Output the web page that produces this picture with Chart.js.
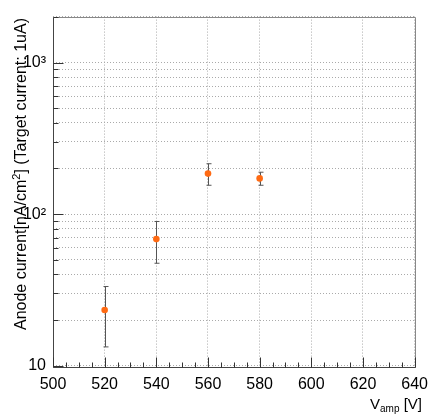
<!DOCTYPE html>
<html>
<head>
<meta charset="utf-8">
<script src="https://cdn.jsdelivr.net/npm/chart.js@4"></script>
<style>
  html,body{margin:0;padding:0;background:#fff;}
  #wrap{width:436px;height:415px;}
</style>
</head>
<body>
<div id="wrap"><canvas id="myChart" width="436" height="415"></canvas></div>
<script>
// data
const voltages = [520, 540, 560, 580]
const currents = [23.3, 68.4, 185, 172]
const errors = [10, 21, 30, 17]

const yGridValues = [10,20,30,40,50,60,70,80,90,100,200,300,400,500,600,700,800,900,1000,2000]
const yLabelled = {10:'10', 100:'10²', 1000:'10³'}
const xTicks = [500,520,540,560,580,600,620,640]

const FONT = '"Liberation Sans", Arial, sans-serif'

// error bars, inward ticks, frame and titles (ROOT look)
const rootStyle = {
    id:'rootStyle',
    afterDatasetsDraw(chart){
        const ctx = chart.ctx
        const xs = chart.scales.x, ys = chart.scales.y
        const a = chart.chartArea
        ctx.save()
        // error bars
        ctx.strokeStyle = '#555'
        ctx.lineWidth = 1
        voltages.forEach((v,i)=>{
            let px = Math.round(xs.getPixelForValue(v)) + 0.5
            let top = ys.getPixelForValue(currents[i] + errors[i])
            let bot = ys.getPixelForValue(currents[i] - errors[i])
            ctx.beginPath()
            ctx.moveTo(px, top); ctx.lineTo(px, bot)
            ctx.moveTo(px-2, top); ctx.lineTo(px+3, top)
            ctx.moveTo(px-2, bot); ctx.lineTo(px+3, bot)
            ctx.stroke()
        })
        // frame
        let L = Math.round(a.left)+0.5, T = Math.round(a.top)+0.5
        let R = Math.round(a.right)+0.5, B = Math.round(a.bottom)+0.5
        ctx.strokeStyle = '#888'
        ctx.beginPath()
        ctx.moveTo(L, T); ctx.lineTo(R, T); ctx.lineTo(R, B)
        ctx.stroke()
        ctx.strokeStyle = '#444'
        ctx.beginPath()
        ctx.moveTo(L, T); ctx.lineTo(L, B); ctx.lineTo(R, B)
        ctx.stroke()
        // x ticks inward
        ctx.strokeStyle = '#333'
        ctx.beginPath()
        for(let v=500; v<=640; v+=5){
            let px = Math.round(xs.getPixelForValue(v))+0.5
            let len = (v%20===0) ? 10 : 5
            ctx.moveTo(px, B); ctx.lineTo(px, B-len)
        }
        // y ticks inward
        yGridValues.forEach(v=>{
            let py = Math.round(ys.getPixelForValue(v))+0.5
            if(py < a.top || py > a.bottom) return
            let len = yLabelled[v] ? 10 : 5
            ctx.moveTo(L, py); ctx.lineTo(L+len, py)
        })
        ctx.stroke()
        // markers on top of bars
        ctx.fillStyle = '#ff6a13'
        voltages.forEach((v,i)=>{
            ctx.beginPath()
            ctx.arc(xs.getPixelForValue(v), ys.getPixelForValue(currents[i]), 3.3, 0, Math.PI*2)
            ctx.fill()
        })
        // x title with subscript
        ctx.fillStyle = '#000'
        ctx.textBaseline = 'alphabetic'
        ctx.textAlign = 'left'
        let parts = [['V',15,0],['amp',10,3],[' [V]',15,0]]
        let total = 0
        parts.forEach(p=>{ ctx.font = p[1]+'px '+FONT; total += ctx.measureText(p[0]).width })
        let x = 422 - total
        parts.forEach(p=>{
            ctx.font = p[1]+'px '+FONT
            ctx.fillText(p[0], x, 409 + p[2])
            x += ctx.measureText(p[0]).width
        })
        // y title rotated, aligned to top
        let yparts = [['Anode current[nA/cm',16,0],['2',11,-6],['] (Target current: 1uA)',16,0]]
        let ytotal = 0
        yparts.forEach(p=>{ ctx.font = p[1]+'px '+FONT; ytotal += ctx.measureText(p[0]).width })
        ctx.save()
        ctx.translate(25.5, 18 + ytotal)
        ctx.rotate(-Math.PI/2)
        let yx = 0
        yparts.forEach(p=>{
            ctx.font = p[1]+'px '+FONT
            ctx.fillText(p[0], yx, p[2])
            yx += ctx.measureText(p[0]).width
        })
        ctx.restore()
        ctx.restore()
    }
}

const config = {
    type:'scatter',
    data:{
        datasets:[{
            label:'Anode current',
            data: voltages.map((v,i)=>({x:v, y:currents[i]})),
            pointRadius:0,
            pointHoverRadius:0,
            showLine:false
        }]
    },
    options:{
        responsive:false,
        animation:false,
        events:[],
        layout:{padding:{top:16, right:17, left:0, bottom:0}},
        plugins:{legend:{display:false}, tooltip:{enabled:false}},
        scales:{
            x:{
                type:'linear', min:500, max:640,
                afterBuildTicks:(s)=>{ s.ticks = xTicks.map(v=>({value:v})) },
                afterFit:(s)=>{ s.height = 48 },
                grid:{color:'#aaa', drawTicks:false, lineWidth:1},
                border:{display:false, dash:[1,2]},
                ticks:{color:'#000', padding:8, maxRotation:0, font:{family:FONT, size:16}}
            },
            y:{
                type:'logarithmic', min:9.8, max:2010,
                afterBuildTicks:(s)=>{ s.ticks = yGridValues.map(v=>({value:v})) },
                afterFit:(s)=>{ s.width = 53 },
                grid:{color:'#aaa', drawTicks:false, lineWidth:1},
                border:{display:false, dash:[1,2]},
                ticks:{color:'#000', padding:7, autoSkip:false, font:{family:FONT, size:16},
                    callback:(v)=> yLabelled[v] || ''}
            }
        }
    },
    plugins:[rootStyle]
}

const myChart = new Chart(document.getElementById('myChart'), config)
</script>
</body>
</html>
